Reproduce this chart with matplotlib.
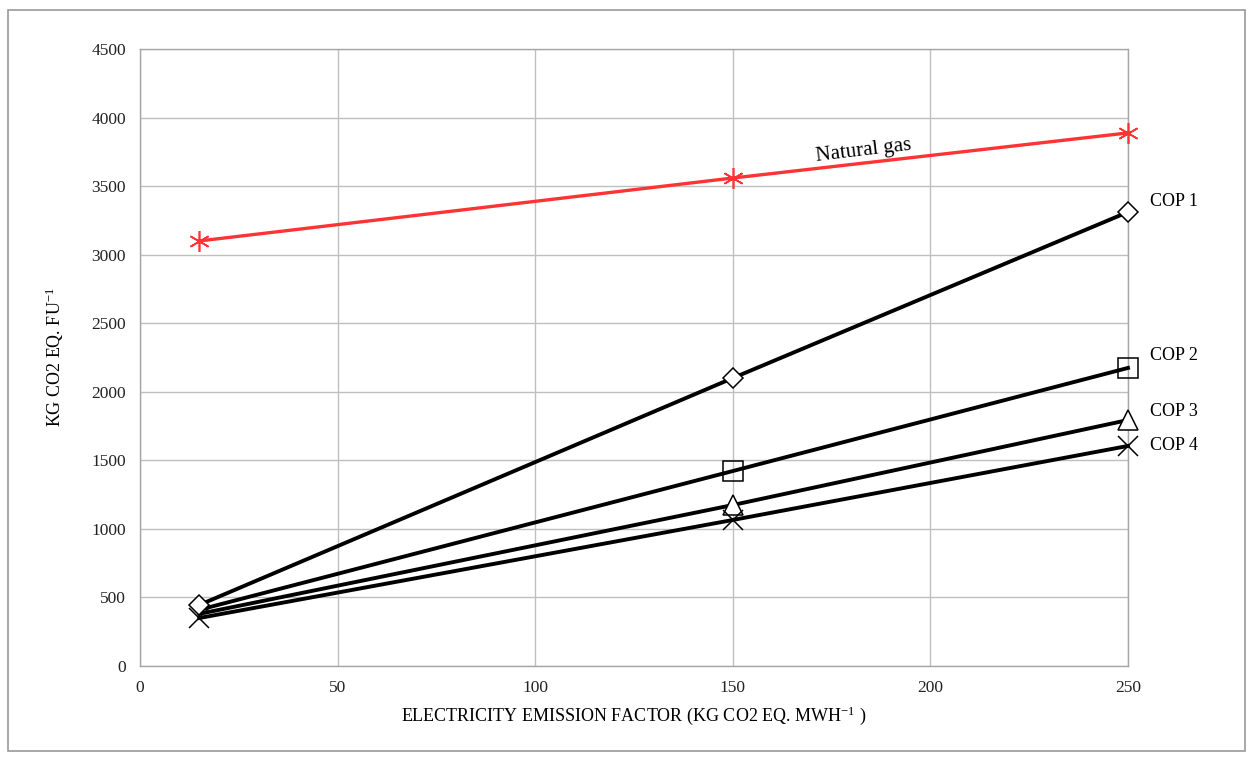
import numpy as np
import matplotlib
matplotlib.use('Agg')
import matplotlib.pyplot as plt
from matplotlib.patches import Rectangle

plt.rcParams['font.family'] = ['Liberation Serif', 'DejaVu Serif']
plt.rcParams['mathtext.fontset'] = 'custom'
plt.rcParams['mathtext.rm'] = 'Liberation Serif'
plt.rcParams['mathtext.it'] = 'Liberation Serif:italic'

factor = [15, 150, 250]
natural_gas = [3100, 3559, 3888]
cop1 = [445, 2100, 3311]
cop2 = [410, 1422, 2174]
cop3 = [380, 1174, 1794]
cop4 = [350, 1065, 1605]
cop_labels = ['COP 1', 'COP 2', 'COP 3', 'COP 4']

fig = plt.figure(figsize=(12.55, 7.61), dpi=100)
fig.patches.append(Rectangle((8 / 1255, 10 / 761), 1237 / 1255, 741 / 761,
                             transform=fig.transFigure, fill=False,
                             edgecolor='#9a9a9a', linewidth=1.2))
ax = fig.add_axes([140 / 1255, 95 / 761, 988 / 1255, 617 / 761])

ax.plot(factor, natural_gas, color='#ff3333', lw=2.4, marker=(6, 2, 0),
        ms=15, mec='#ff3333', mew=1.2, zorder=3, clip_on=False)

# marker style, size, face, which points get a marker
styles = [('D', 10, 'white', [0, 1, 2]), ('s', 15, 'none', [1, 2]),
          ('^', 15, 'white', [1, 2]), ('x', 15, 'none', [0, 1, 2])]
for vals, (m, ms, fc, every) in zip([cop1, cop2, cop3, cop4], styles):
    ax.plot(factor, vals, color='black', lw=2.8, zorder=3, clip_on=False)
    ax.plot(factor, vals, ls='none', marker=m, ms=ms, mfc=fc, mec='black',
            mew=1.1, zorder=4, markevery=every, clip_on=False)

for lab, vals, dy in zip(cop_labels, [cop1, cop2, cop3, cop4], [80, 90, 65, 0]):
    ax.text(factor[-1] + 5.5, vals[-1] + dy, lab, fontsize=13, va='center', ha='left')

ax.text(183, 3760, 'Natural gas', fontsize=15, rotation=6.8, ha='center', va='center')

ax.set_xlim(0, 250)
ax.set_ylim(0, 4500)
ax.set_xticks(np.arange(0, 251, 50))
ax.set_yticks(np.arange(0, 4501, 500))
ax.grid(True, color='#bfbfbf', lw=1.0)
ax.set_axisbelow(True)
for s in ax.spines.values():
    s.set_color('#a6a6a6')
    s.set_linewidth(1.0)
ax.tick_params(length=0, labelsize=12.5, colors='#222222', pad=10)

ax.set_xlabel('ELECTRICITY EMISSION FACTOR (KG CO2 EQ. MWH$^{-1}$ )', fontsize=13, labelpad=6)
ax.set_ylabel('KG CO2 EQ. FU$^{-1}$', fontsize=13, labelpad=18)

fig.savefig('out.png', dpi=100)
